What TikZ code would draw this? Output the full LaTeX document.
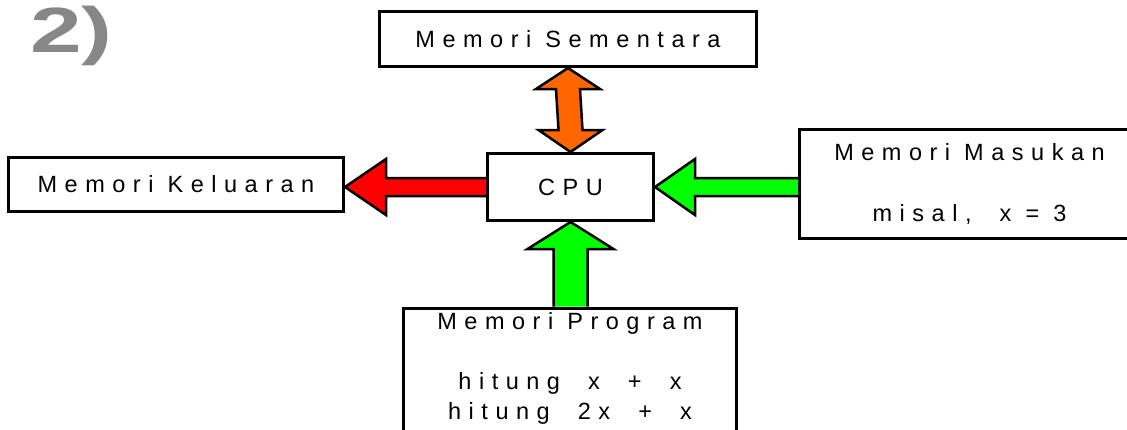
\documentclass[tikz,border=0pt]{standalone}
\usepackage{fontspec}
\setmainfont{Liberation Sans}
\newfontfamily\boxfont[LetterSpace=32]{Liberation Sans}
\usetikzlibrary{calc}
\begin{document}
\begin{tikzpicture}[x=1pt,y=-1pt,
  membox/.style={draw=black,line width=3pt,fill=white,inner sep=0pt,align=center,
    font=\boxfont\fontsize{23.5}{30.5}\selectfont},
  barrow/.style={draw=black,line width=2.5pt,line join=miter}]
\useasboundingbox[fill=white] (0,0) rectangle (1127,429);
% title
\node[anchor=base west,inner sep=0pt,text=black!47,font=\bfseries\fontsize{64}{64}\selectfont] (num) at (30,52) {\scalebox{1.45}[1]{2)}};
% boxes
\node[membox,minimum width=377pt,minimum height=55pt] (sem) at (568,39) {Memori Sementara};
\node[membox,minimum width=166pt,minimum height=67pt] (cpu) at (570.5,187) {CPU};
\node[membox,minimum width=335pt,minimum height=54pt] (kel) at (176,184.5) {Memori Keluaran};
\node[membox,minimum width=340pt,minimum height=109pt] (mas) at (969.5,184) {Memori Masukan\\[31pt]misal,\ \ x = 3};
\node[membox,minimum width=333pt,minimum height=134pt,anchor=north] (prog) at (570,306.5) {};
\node[inner sep=0pt,align=center,anchor=north,font=\boxfont\fontsize{23.5}{30}\selectfont] (progtxt) at (570,312) {Memori Program\\[30pt]hitung\ \ x\ \ +\ \ x\\hitung\ \ 2x\ \ +\ \ x};
% arrows
\coordinate (rt) at (kel.east |- cpu.west);
\coordinate (gb) at (mas.west |- cpu.east);
\coordinate (ub) at (cpu.south |- prog.north);
\draw[barrow,fill=red] ($(cpu.west)+(0,-9)$) -- ($(rt)+(41,-9)$) -- ($(rt)+(41,-28)$) -- (rt) -- ($(rt)+(41,28)$) -- ($(rt)+(41,9)$) -- ($(cpu.west)+(0,9)$);
\draw[barrow,fill=green] ($(gb)+(0,-9)$) -- ($(cpu.east)+(40,-9)$) -- ($(cpu.east)+(40,-28)$) -- (cpu.east) -- ($(cpu.east)+(40,28)$) -- ($(cpu.east)+(40,9)$) -- ($(gb)+(0,9)$);
\draw[barrow,fill=green] ($(ub)+(-17,0)$) -- ($(cpu.south)+(-17,27)$) -- ($(cpu.south)+(-43,27)$) -- (cpu.south) -- ($(cpu.south)+(43,27)$) -- ($(cpu.south)+(17,27)$) -- ($(ub)+(17,0)$);
\draw[barrow,fill=orange!80!red] (sem.south) -- ($(sem.south)+(32,21)$) -- ($(sem.south)+(12,21)$) -- ($(cpu.north)+(12,-22)$) -- ($(cpu.north)+(32,-22)$) -- (cpu.north) -- ($(cpu.north)+(-32,-22)$) -- ($(cpu.north)+(-12,-22)$) -- ($(sem.south)+(-12,21)$) -- ($(sem.south)+(-32,21)$) -- cycle;
\end{tikzpicture}
\end{document}
